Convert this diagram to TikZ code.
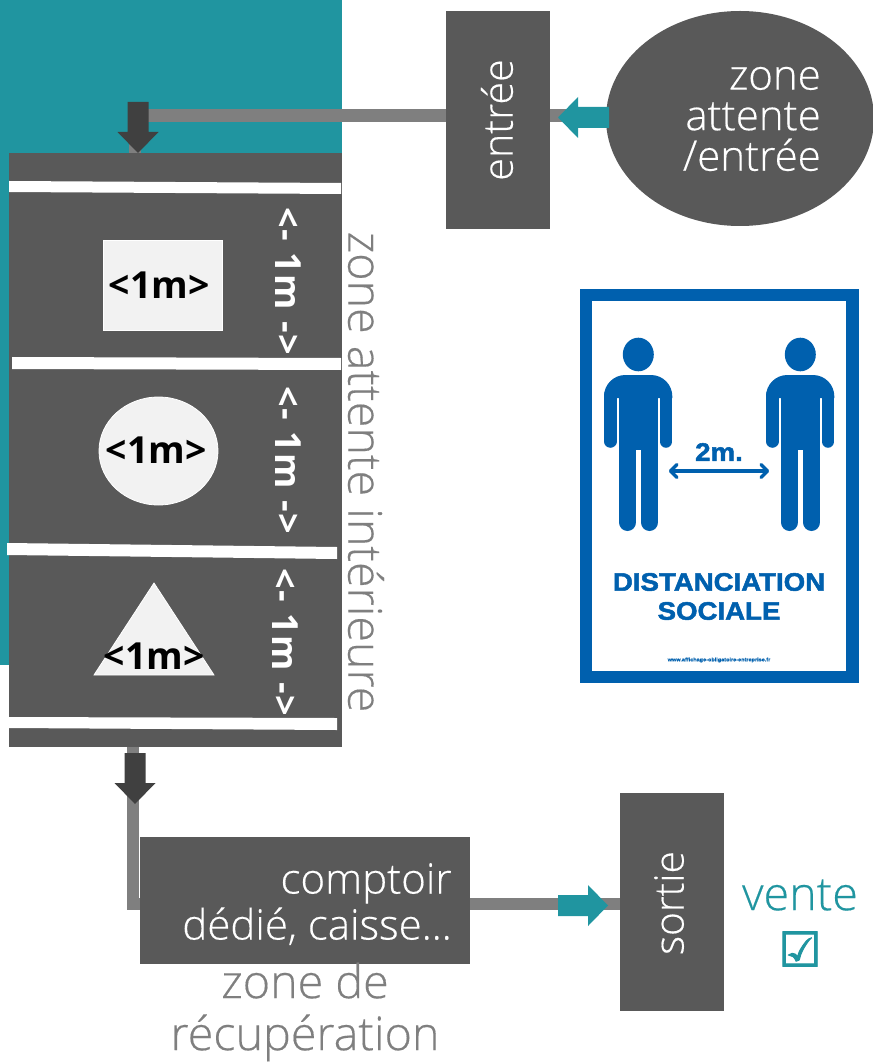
\documentclass[tikz,border=0pt]{standalone}
\usepackage{fontspec}
\setmainfont[FakeBold=0.35]{Open Sans Light}
\newfontfamily\semi{Open Sans}
\newfontfamily\semisp[LetterSpace=5]{Open Sans}
\newfontfamily\sym[FakeBold=2]{DejaVu Sans}
\newfontfamily\heavy[FakeBold=2,FakeStretch=1.09]{Liberation Sans Bold}
\newfontfamily\heavysm[FakeBold=0.5,FakeStretch=1.09]{Liberation Sans Bold}
\usetikzlibrary{calc}
\definecolor{teal1}{HTML}{2095A0}
\definecolor{panelg}{HTML}{595959}
\definecolor{lineg}{HTML}{7F7F7F}
\definecolor{darkg}{HTML}{404040}
\definecolor{poster}{HTML}{0060AE}
\pgfdeclarelayer{bg}
\pgfsetlayers{bg,main}
\newcommand{\fs}[2]{\fontsize{#1}{#2}\selectfont}
\tikzset{
 x=0.75pt,y=-0.75pt,
 box/.style={fill=panelg,draw=none,inner sep=0,text=white,align=right},
 wband/.style={fill=white,draw=none},
 shapeg/.style={fill=black!5,draw=white,line width=0.6pt},
 conn/.style={draw=lineg,line width=9.4pt},
 onem/.style={font=\semi\bfseries\fs{28}{28},text=black,inner sep=0},
 side/.style={font=\semisp\bfseries\fs{27}{27},text=white,rotate=-90,inner sep=0},
 gtext/.style={font=\fs{35}{39},text=lineg,align=center,inner sep=0},
 wtext/.style={text=white,align=right,inner sep=0},
 poststyle/.style={text=poster,inner sep=0},
 leg/.style={draw=poster,line width=13.2pt,line cap=round},
 arm/.style={draw=poster,line width=9.4pt,line cap=round},
 twoheads/.style={draw=poster,line width=2.6pt,line cap=round,line join=round},
}
\newcommand{\darrow}[1]{\fill[darkg] ($(#1)+(-10.5,-51)$) -- ++(21,0) -- ++(0,30) -- ++(10,0) -- ($(#1)$) -- ++(-20.5,-21) -- ++(10,0) -- cycle;}
\begin{document}
\begin{tikzpicture}
\useasboundingbox (0,0) rectangle (873,1062);
\begin{pgfonlayer}{bg}
\fill[white] (0,0) rectangle (873,1062);
\fill[teal1] (0,0) rectangle (342,665);
\end{pgfonlayer}
% panel
\node[box,minimum width=249.75pt,minimum height=445.5pt] (panel) at (175.5,450) {};
\fill[wband] (9,181) -- (341,183) -- (341,194) -- (9,192) -- cycle;
\fill[wband] (12,357) -- (341,358) -- (341,370) -- (12,369) -- cycle;
\fill[wband] (7,543) -- (337,547) -- (337,559) -- (7,555) -- cycle;
\fill[wband] (9,717) -- (337,718) -- (337,730) -- (9,728) -- cycle;
\node[shapeg,minimum width=89.25pt,minimum height=67.5pt,inner sep=0] (sq) at (162.5,285) {};
\node[onem] (t1) at (159,285) {<1m>};
\draw[shapeg] (158.5,451) ellipse [x radius=59.5,y radius=54];
\node[onem] (t2) at (156,450) {<1m>};
\fill[black!5,draw=white,line width=0.6pt] (154,583) -- (214,675) -- (94,675) -- cycle;
\node[onem] (t3) at (154,656) {<1m>};
\node[side] (s1) at (288,281) {<- 1m ->};
\node[side] (s2) at (288,460) {<- 1m ->};
\node[side] (s3) at (285,642) {<- 1m ->};
\node[gtext,rotate=-90] (zint) at (366,472) {zone attente intérieure};
% boxes
\node[box,minimum width=78pt,minimum height=163.5pt] (entree) at (498,120) {};
\node[wtext,font=\fs{31}{31},rotate=90] (entreet) at (497,120) {entrée};
\fill[panelg] (740,118.5) ellipse [x radius=134,y radius=107.5];
\coordinate (zoneW) at (606,115.5);
\node[wtext,font=\fs{31.5}{30.4},anchor=east] (zone) at (821,119) {zone\\attente\\/entrée};
\node[box,minimum width=247.5pt,minimum height=95.25pt] (comptoir) at (305,900.5) {};
\node[wtext,font=\fs{31.5}{34.5},anchor=east] (ct) at (452,904) {comptoir\\dédié, caisse...};
\node[box,minimum width=78pt,minimum height=163.5pt] (sortie) at (672,902) {};
\node[wtext,font=\fs{30.5}{30.5},rotate=90] (st) at (669,903) {sortie};
\node[gtext] (zr) at (305,1012) {zone de\\récupération};
\node[font=\fs{35}{35},text=teal1,inner sep=0] (vt) at (800,895) {vente};
\node[font=\sym\fs{36}{36},text=teal1,inner sep=0] (ck) at (800,949) {☑};
% connectors
\coordinate (dropA) at (135,153);
\coordinate (dropB) at (133,747);
\coordinate (outY) at (470,904);
\begin{pgfonlayer}{bg}
\draw[conn] (zoneW) -- (zoneW -| entree.east);
\draw[conn] (zoneW -| entree.west) -- (zoneW -| dropA) -- (dropA);
\draw[conn] (dropB) -- (dropB |- outY) -- (outY -| sortie.west);
\end{pgfonlayer}
\darrow{138,153}
\fill[teal1] (609,107) -- (578,107) -- (578,97) -- (558,117.5) -- (578,138) -- (578,128) -- (609,128) -- cycle;
\darrow{135,804}
\fill[teal1] (558,895) -- (588,895) -- (588,885) -- (608,905.5) -- (588,926) -- (588,916) -- (558,916) -- cycle;
% poster
\fill[poster] (580,289) rectangle (859,683);
\fill[white] (592,301) rectangle (846,671);
\foreach \dx in {0,162}{
\begin{scope}[shift={(\dx,0)}]
\fill[poster] (638.3,354.5) ellipse [x radius=15.5,y radius=16.8];
\fill[poster] (604,398) [rounded corners=16pt] -- (604,375) -- (672.3,375) [sharp corners] -- (672.3,398) -- cycle;
\fill[poster] (618.7,390) rectangle (658.3,450);
\draw[arm] (610.3,395) -- (610.3,441.5);
\draw[arm] (666,395) -- (666,441.5);
\draw[leg] (627.5,445) -- (627.5,522.2);
\draw[leg] (649.5,445) -- (649.5,522.2);
\end{scope}}
\draw[twoheads] (671,471) -- (767,471);
\draw[twoheads] (677,464.5) -- (670.5,471) -- (677,477.5);
\draw[twoheads] (761,464.5) -- (767.5,471) -- (761,477.5);
\node[font=\heavy\fs{19}{19},poststyle] (p2m) at (719,452) {2m.};
\node[font=\heavy\fs{19}{19},poststyle] (pd) at (719,582) {DISTANCIATION};
\node[font=\heavy\fs{19}{19},poststyle] (ps) at (719,611) {SOCIALE};
\node[font=\heavysm\fs{3.8}{4},poststyle] (pu) at (719,660) {www.affichage-obligatoire-entreprise.fr};
\end{tikzpicture}
\end{document}
